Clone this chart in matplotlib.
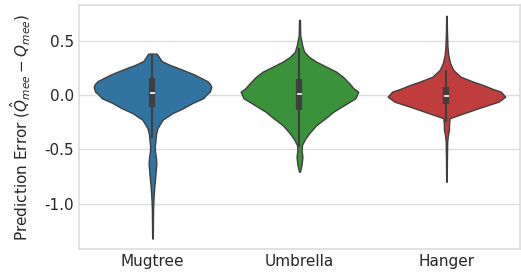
import matplotlib
matplotlib.use("Agg")
import matplotlib.pyplot as plt
import seaborn as sns

# estilo tipo seaborn whitegrid
sns.set_theme(style="whitegrid")
plt.rcParams['font.family'] = ['DejaVu Sans']
plt.rcParams['axes.unicode_minus'] = False

# categorias y colores
categorias = ['Mugtree', 'Umbrella', 'Hanger']
colores = ['#3274a1', '#3a923a', '#c03d3e']

# perfiles de densidad: (valor y, medio ancho en unidades de categoria)
mug_y = [0.38, 0.34, 0.311, 0.276, 0.25, 0.188, 0.126, 0.10, 0.074, 0.03, 0.003, -0.03,
         -0.074, -0.122, -0.167, -0.229, -0.306, -0.36, -0.42, -0.47, -0.52, -0.58,
         -0.64, -0.70, -0.78, -0.85, -0.95, -1.05, -1.2, -1.32]
mug_w = [0.029, 0.048, 0.063, 0.118, 0.17, 0.284, 0.374, 0.392, 0.4, 0.39, 0.367, 0.345,
         0.272, 0.209, 0.136, 0.068, 0.034, 0.024, 0.02, 0.016, 0.017, 0.024,
         0.026, 0.022, 0.017, 0.012, 0.007, 0.004, 0.003, 0.002]

umb_y = [0.69, 0.55, 0.46, 0.398, 0.352, 0.306, 0.26, 0.214, 0.168, 0.108, 0.062, 0.03,
         -0.03, -0.092, -0.154, -0.214, -0.276, -0.338, -0.398, -0.46, -0.506, -0.568,
         -0.644, -0.706]
umb_w = [0.003, 0.005, 0.018, 0.031, 0.063, 0.114, 0.182, 0.25, 0.295, 0.338, 0.367, 0.4,
         0.381, 0.306, 0.231, 0.177, 0.116, 0.075, 0.041, 0.017, 0.014, 0.02,
         0.014, 0.003]

han_y = [0.727, 0.60, 0.444, 0.368, 0.292, 0.23, 0.168, 0.122, 0.092, 0.055, 0.03, -0.016,
         -0.062, -0.122, -0.184, -0.214, -0.26, -0.322, -0.368, -0.43, -0.6, -0.798]
han_w = [0.002, 0.003, 0.007, 0.012, 0.025, 0.046, 0.095, 0.182, 0.247, 0.315, 0.37, 0.4,
         0.354, 0.218, 0.085, 0.022, 0.018, 0.017, 0.01, 0.005, 0.003, 0.002]

perfiles = [(mug_y, mug_w), (umb_y, umb_w), (han_y, han_w)]

# estadisticos de la caja interna: bigote inf, q1, mediana, q3, bigote sup
cajas = [
    [-0.398, -0.108, 0.016, 0.154, 0.38],
    [-0.476, -0.138, 0.006, 0.147, 0.43],
    [-0.25, -0.087, -0.007, 0.074, 0.23],
]

fig, ax = plt.subplots(figsize=(5.21, 2.74), dpi=100)
fig.subplots_adjust(left=0.1516, right=0.998, top=0.981, bottom=0.0912)

linea = '#3f3f3f'
for i, ((ys, ws), col, caja) in enumerate(zip(perfiles, colores, cajas)):
    izq = [i - w for w in ws]
    der = [i + w for w in ws]
    ax.fill_betweenx(ys, izq, der, facecolor=col, edgecolor=linea, linewidth=1.0, zorder=2)
    b_inf, q1, med, q3, b_sup = caja
    ax.vlines(i, b_inf, b_sup, color=linea, linewidth=1.5, zorder=3)
    ax.vlines(i, q1, q3, color=linea, linewidth=4.5, zorder=3)
    ax.hlines(med, i - 0.02, i + 0.02, color='white', linewidth=1.2, zorder=4)

ax.set_xlim(-0.5, 2.5)
ax.set_ylim(-1.417, 0.825)
ax.set_xticks(range(len(categorias)))
ax.set_xticklabels(categorias)
ax.set_yticks([-1.0, -0.5, 0.0, 0.5])
ax.tick_params(axis='both', size=0, pad=3.5, labelsize=11)
ax.xaxis.grid(False)
ax.yaxis.grid(True, color='#dedede', linewidth=1.0)
for sp in ax.spines.values():
    sp.set_color('#dedede')
ax.set_ylabel(r'Prediction Error ($\hat{Q}_{mee} - Q_{mee}$)', fontsize=11, labelpad=8)

plt.savefig('out.png', dpi=100)
